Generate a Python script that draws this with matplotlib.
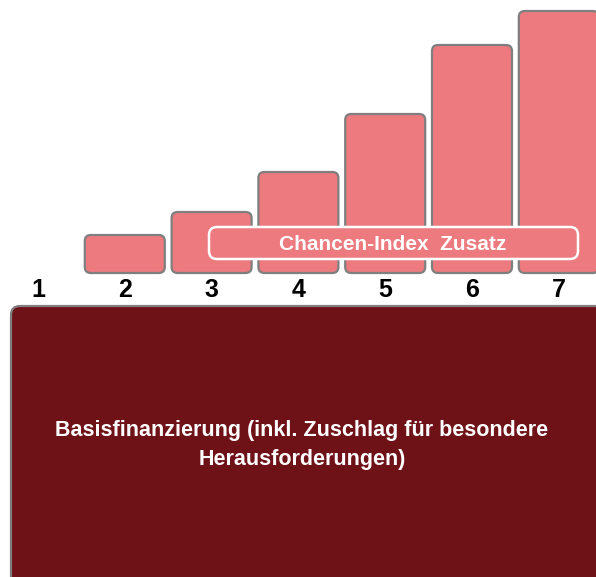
import matplotlib.pyplot as plt
from matplotlib.patches import FancyBboxPatch

plt.rcParams['font.family'] = ['Liberation Sans', 'DejaVu Sans']

# data
categories = ['1', '2', '3', '4', '5', '6', '7']
values = [0, 38, 61, 101, 159, 228, 262]
zusatz_label = 'Chancen-Index Zusatz'
basis_label = 'Basisfinanzierung (inkl. Zuschlag für besondere\nHerausforderungen)'

bar_color = '#EC7A7E'
edge_color = '#7F7F7F'
dark_color = '#6E1218'

W, H = 596, 577
fig = plt.figure(figsize=(W / 100, H / 100), dpi=100)
ax = fig.add_axes([0, 0, 1, 1])
ax.axis('off')

# one category step = ~86.8 px, category 1 sits at ~38 px, baseline at 273 px from top
step = 86.8
x0 = 1 - 38 / step
ax.set_xlim(x0, x0 + W / step)
ax.set_ylim(273 - H, 273)

bar_w = 80 / step
for i, (cat, v) in enumerate(zip(categories, values)):
    c = i + 1
    if v > 0:
        p = FancyBboxPatch((c - bar_w / 2, 0), bar_w, v,
                           boxstyle=f'round,pad=0,rounding_size={6 / step}',
                           mutation_aspect=step,
                           fc=bar_color, ec=edge_color, lw=1.6, zorder=2)
        ax.add_patch(p)
    ax.text(c, -17, cat, ha='center', va='center', fontsize=18,
            fontweight='bold', color='black')

# overlay box "Chancen-Index Zusatz"
def px(x, y):
    return x / W, 1 - y / H

bx, by = px(209, 259)
box = FancyBboxPatch((bx, by), (578 - 209) / W, 32 / H,
                     boxstyle=f'round,pad=0,rounding_size={8 / W}',
                     mutation_aspect=W / H,
                     transform=fig.transFigure, fc=bar_color, ec='white',
                     lw=1.8, zorder=3)
fig.patches.append(box)
tx, ty = px(393, 244)
fig.text(tx, ty, zusatz_label.replace(' ', '  '), ha='center', va='center',
         fontsize=15, fontweight='bold', color='white', zorder=4)

# base financing block
dx, dy = px(11, 600)
base = FancyBboxPatch((dx, dy), (620 - 11) / W, (600 - 306) / H,
                      boxstyle=f'round,pad=0,rounding_size={9 / W}',
                      mutation_aspect=W / H,
                      transform=fig.transFigure, fc=dark_color, ec=edge_color,
                      lw=1.6, zorder=1)
fig.patches.append(base)
tx, ty = px(302, 445)
fig.text(tx, ty, basis_label, ha='center', va='center', fontsize=15.5,
         fontweight='bold', color='white', linespacing=1.55, zorder=4)

fig.savefig('out.png', dpi=100)
